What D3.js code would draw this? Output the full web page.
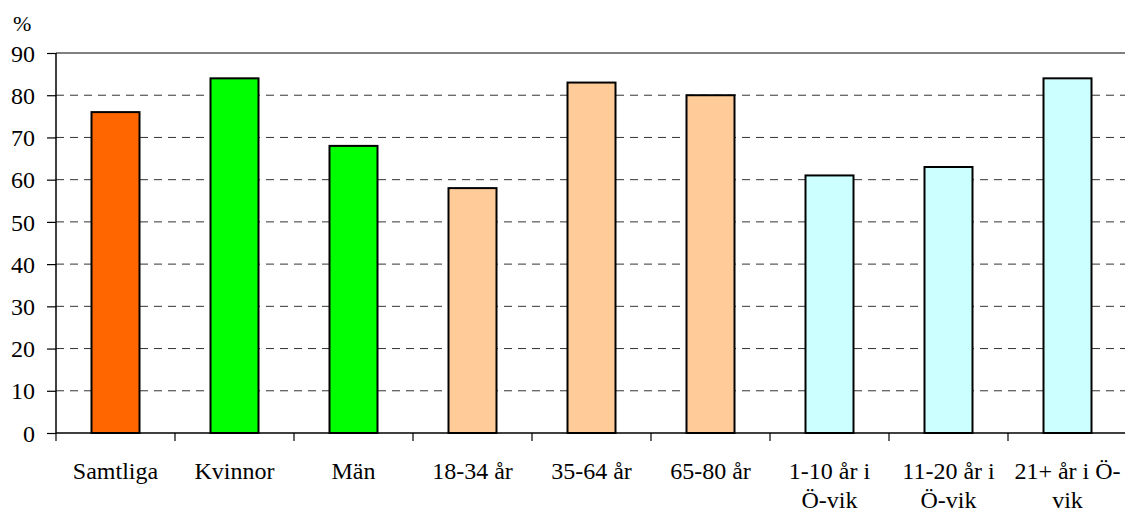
<!DOCTYPE html>
<html><head><meta charset="utf-8">
<script src="https://cdn.jsdelivr.net/npm/d3@7"></script>
<style>body{margin:0;background:#fff}svg{display:block}</style>
</head><body>
<script>
const categories = ["Samtliga","Kvinnor","Män","18-34 år","35-64 år","65-80 år","1-10 år i Ö-vik","11-20 år i Ö-vik","21+ år i Ö-vik"];
const labelLines = [["Samtliga"],["Kvinnor"],["Män"],["18-34 år"],["35-64 år"],["65-80 år"],["1-10 år i","Ö-vik"],["11-20 år i","Ö-vik"],["21+ år i Ö-","vik"]];
const values = [76,84,68,58,83,80,61,63,84];
const colors = ["#FF6600","#00FF00","#00FF00","#FFCC99","#FFCC99","#FFCC99","#CCFFFF","#CCFFFF","#CCFFFF"];
const yTicks = [0,10,20,30,40,50,60,70,80,90];

const W=1125,H=513;
const FONT='"Liberation Serif","Times New Roman",serif';
const m={left:56,top:53,right:1127,bottom:433};
const svg=d3.select("body").append("svg").attr("width",W).attr("height",H);
const xb=d3.scaleBand().domain(categories).range([m.left,m.right]);
const y=d3.scaleLinear().domain([0,90]).range([m.bottom,m.top]);

// gridlines
svg.append("g").selectAll("line").data(yTicks.filter(d=>d>0)).join("line")
  .attr("x1",m.left).attr("x2",m.right).attr("y1",d=>y(d)).attr("y2",d=>y(d))
  .attr("stroke",d=>d===90?"#808080":"#000").attr("stroke-width",d=>d===90?2:1)
  .attr("stroke-dasharray",d=>d===90?null:"8,6").attr("opacity",d=>d===90?1:0.8);

// bars
svg.append("g").selectAll("rect").data(values).join("rect")
  .attr("x",(d,i)=>xb(categories[i])+xb.bandwidth()/2-24)
  .attr("width",48)
  .attr("y",d=>y(d)).attr("height",d=>y(0)-y(d))
  .attr("fill",(d,i)=>colors[i]).attr("stroke","#000").attr("stroke-width",2);

// y axis
const ya=svg.append("g").attr("transform",`translate(${m.left},0)`)
  .call(d3.axisLeft(y).tickValues(yTicks).tickSize(9).tickPadding(12).tickFormat(d3.format("d")));
ya.select(".domain").attr("stroke","#000").attr("stroke-width",1.5).attr("d",`M0,${m.top}V${m.bottom}`);
ya.selectAll(".tick line").attr("stroke","#000").attr("stroke-width",1.2);
ya.selectAll(".tick text").style("font-family",FONT).style("font-size","24px").attr("fill","#000").attr("dy","0.34em");

// x axis
const xa=svg.append("g").attr("transform",`translate(0,${m.bottom})`)
  .call(d3.axisBottom(xb).tickSize(0).tickFormat(""));
xa.select(".domain").attr("stroke","#000").attr("stroke-width",1.5).attr("d",`M${m.left},0H${m.right}`);
xa.selectAll(".tick").remove();
const bounds=categories.map(c=>xb(c)).concat([m.right]);
xa.selectAll("line.sep").data(bounds).join("line").attr("class","sep")
  .attr("x1",d=>d).attr("x2",d=>d).attr("y1",0).attr("y2",8).attr("stroke","#000").attr("stroke-width",1.2);

// labels
const lg=svg.append("g");
labelLines.forEach((lines,i)=>{
  const cx=xb(categories[i])+xb.bandwidth()/2;
  const t=lg.append("text").attr("x",cx).attr("y",479).attr("text-anchor","middle")
    .style("font-family",FONT).style("font-size","24px").attr("fill","#000");
  lines.forEach((l,j)=>t.append("tspan").attr("x",cx).attr("dy",j===0?0:29).text(l));
});

svg.append("text").attr("x",13).attr("y",31).style("font-family",FONT).style("font-size","22px").attr("fill","#000").text("%");
</script>
</body></html>
